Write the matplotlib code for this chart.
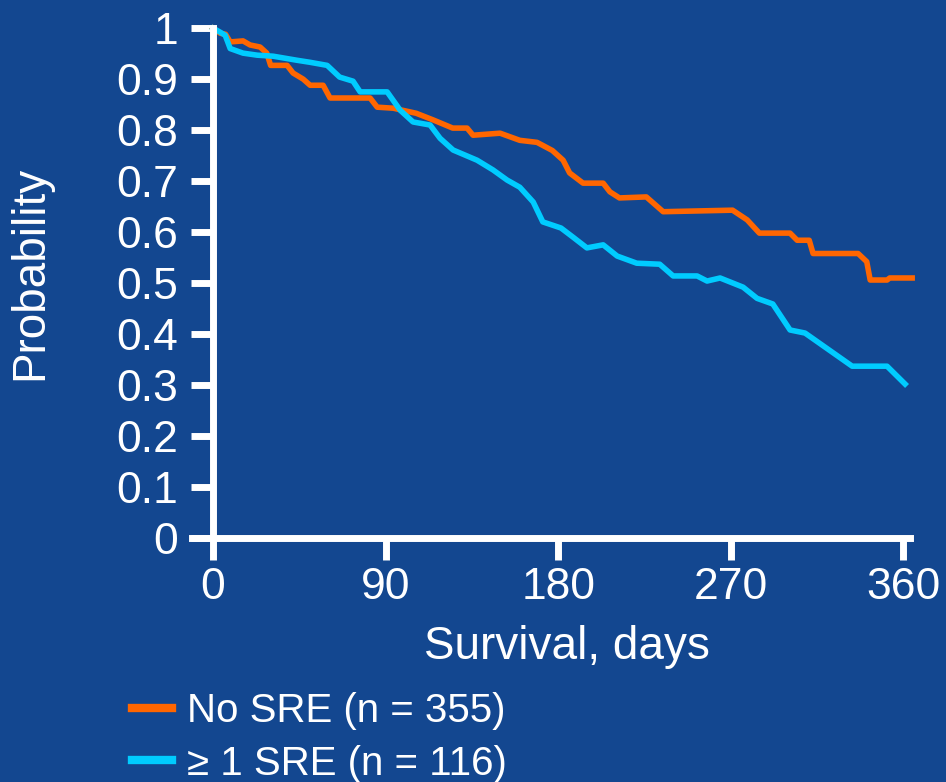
import matplotlib as mpl
import matplotlib.pyplot as plt

mpl.rcParams['font.family'] = ['Liberation Sans', 'DejaVu Sans']

bg = '#134790'
orange = '#FF6600'
cyan = '#00CCFF'

# Kaplan-Meier curves (days, probability)
no_sre_days = [0, 3.7, 6.5, 8.9, 15.6, 19.3, 24.5, 28, 30, 38.6, 41.7, 47, 50.6, 57.4, 61,
               81.9, 85.6, 94, 106, 114.8, 125, 132.5, 135.6, 149.7, 160, 169, 177, 182.6,
               186, 193, 203.5, 207, 212, 226, 234.8, 271, 278.6, 285, 301, 304.7, 311, 313,
               336.5, 341, 342.8, 351.6, 353, 364.7]
no_sre_prob = [1.0, 0.99, 0.988, 0.973, 0.975, 0.967, 0.963, 0.951, 0.927, 0.927, 0.912,
               0.90, 0.888, 0.888, 0.863, 0.863, 0.845, 0.843, 0.833, 0.82, 0.804, 0.804,
               0.79, 0.794, 0.78, 0.776, 0.76, 0.741, 0.716, 0.696, 0.696, 0.679, 0.667,
               0.669, 0.64, 0.643, 0.624, 0.598, 0.598, 0.584, 0.584, 0.558, 0.558, 0.542,
               0.506, 0.506, 0.51, 0.51]

sre_days = [0, 3.7, 6.3, 8.9, 15.6, 23, 31.3, 43.8, 50.6, 59.5, 66, 73, 76.7, 90.8, 97.6,
            104.3, 113.2, 118.4, 125.2, 137.7, 146, 153.4, 160, 167, 172, 181.5, 187.8, 195,
            203.5, 210.8, 221, 233, 240, 252.5, 257.7, 264.5, 276.5, 283.8, 292, 301, 308.8,
            333.4, 351.6, 361]
sre_prob = [1.0, 0.992, 0.986, 0.96, 0.951, 0.947, 0.945, 0.937, 0.933, 0.927, 0.904, 0.896,
            0.875, 0.875, 0.839, 0.816, 0.81, 0.784, 0.761, 0.741, 0.722, 0.702, 0.688, 0.659,
            0.62, 0.608, 0.59, 0.569, 0.575, 0.553, 0.539, 0.537, 0.514, 0.514, 0.504, 0.51,
            0.492, 0.47, 0.459, 0.408, 0.402, 0.337, 0.337, 0.302]

x_ticks = [0, 90, 180, 270, 360]
y_ticks = [0, 0.1, 0.2, 0.3, 0.4, 0.5, 0.6, 0.7, 0.8, 0.9, 1]
y_labels = ['0', '0.1', '0.2', '0.3', '0.4', '0.5', '0.6', '0.7', '0.8', '0.9', '1']

fig = plt.figure(figsize=(9.46, 7.82), dpi=100, facecolor=bg)
ax = fig.add_axes([0.203, 0.312, 0.759, 0.652], facecolor=bg)

ax.plot(no_sre_days, no_sre_prob, color=orange, lw=4, label='No SRE (n = 355)',
        clip_on=False)
ax.plot(sre_days, sre_prob, color=cyan, lw=4, label='≥ 1 SRE (n = 116)',
        clip_on=False)

ax.set_xlim(-11, 363.6)
ax.set_ylim(0, 1)
for side in ['top', 'right']:
    ax.spines[side].set_visible(False)
for side in ['left', 'bottom']:
    ax.spines[side].set_color('white')
    ax.spines[side].set_linewidth(5)
    ax.spines[side].set_capstyle('projecting')
ax.spines['left'].set_position(('data', 0))

ax.set_xticks(x_ticks)
ax.set_yticks(y_ticks)
ax.set_yticklabels(y_labels)
ax.tick_params(colors='white', labelsize=32, length=16, width=5, direction='out')
ax.tick_params(axis='y', pad=9)
ax.tick_params(axis='x', pad=5)

ax.set_xlabel('Survival, days', color='white', fontsize=33)
ax.set_ylabel('Probability', color='white', fontsize=33)
ax.yaxis.set_label_coords(-0.194, 0.52)
ax.xaxis.set_label_coords(0.522, -0.17)

leg = fig.legend(loc='lower left', bbox_to_anchor=(0.101, -0.047), frameon=False,
                 fontsize=29, handlelength=1.0, handletextpad=0.37, labelspacing=0.37,
                 labelcolor='white')
for line in leg.get_lines():
    line.set_linewidth(6)

plt.savefig('out.png', dpi=100, facecolor=bg)
